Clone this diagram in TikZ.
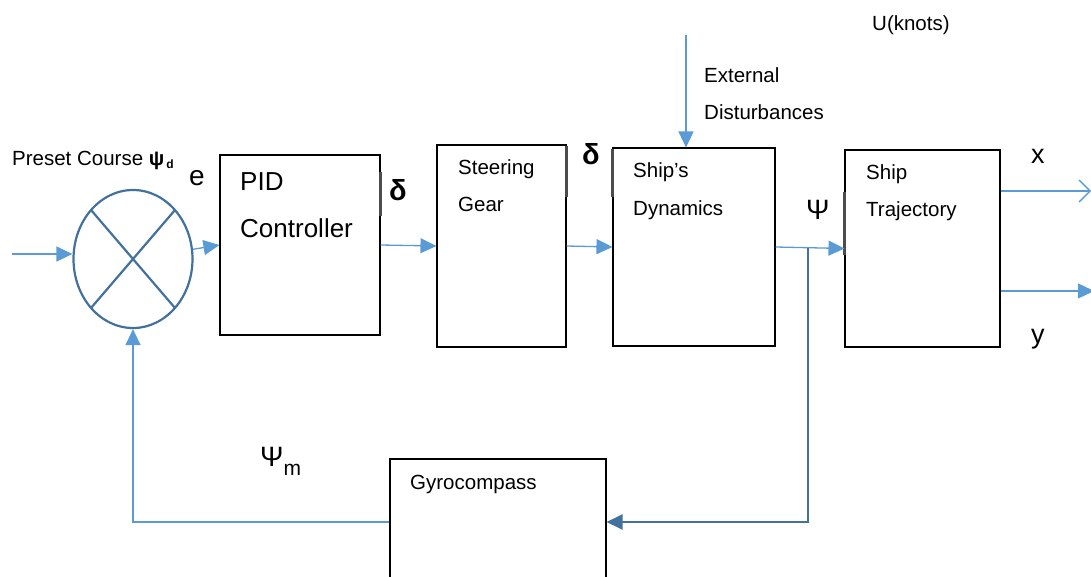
\documentclass[tikz,border=0pt]{standalone}
\usepackage{fontspec}
\setmainfont{Liberation Sans}
\usetikzlibrary{arrows.meta,shapes.geometric,calc}
\definecolor{lineblue}{HTML}{5B9BD5}
\definecolor{darkblue}{HTML}{41719C}
\begin{document}
\begin{tikzpicture}[x=1pt,y=-1pt,
  blk/.style={draw=black,line width=1.1pt,inner sep=0pt,rectangle},
  sig/.style={draw=lineblue,line width=1.3pt,-{Triangle[length=16pt,width=15pt]}},
  opensig/.style={draw=lineblue,line width=1.3pt,-{Straight Barb[length=11pt,width=22pt,line width=1.4pt]}},
  fb/.style={draw=darkblue,line width=2.4pt,-{Triangle[length=16pt,width=15pt]}},
  fbl/.style={draw=lineblue,line width=1.3pt,-{Triangle[length=16pt,width=15pt]}},
  bar/.style={draw=black!70,line width=2.6pt},
  lbl/.style={anchor=base west,inner sep=0pt,font=\fontsize{20.5}{24}\selectfont},
  big/.style={anchor=base west,inner sep=0pt,font=\fontsize{26}{30}\selectfont}]
\useasboundingbox (0,0) rectangle (1091,577);
\clip (0,0) rectangle (1091,577);

% summing junction
\node[ellipse,draw=darkblue,line width=2.2pt,minimum width=119pt,minimum height=138pt,inner sep=0pt] (sum) at (133,259) {};
\draw[darkblue,line width=2.2pt] ($(sum.center)+(-42,-49)$) -- ($(sum.center)+(42,49)$);
\draw[darkblue,line width=2.2pt] ($(sum.center)+(42,-49)$) -- ($(sum.center)+(-42,49)$);

% blocks
\node[blk,minimum width=160pt,minimum height=180pt] (pid) at (300,245) {};
\node[blk,minimum width=129pt,minimum height=202pt] (steer) at (501.5,246) {};
\node[blk,minimum width=162pt,minimum height=198pt] (dyn) at (694,247) {};
\node[blk,minimum width=155pt,minimum height=197pt] (traj) at (922.5,248.5) {};
\node[blk,minimum width=216pt,minimum height=126pt] (gyro) at (498,522) {};

% darker edge segments
\draw[bar] (pid.east |- 0,172) -- (pid.east |- 0,216);
\draw[bar] (steer.east |- 0,146) -- (steer.east |- 0,197);
\draw[bar] (dyn.west |- 0,149) -- (dyn.west |- 0,197);
\draw[bar] (traj.west |- 0,192) -- (traj.west |- 0,255);

% block texts
\node[big] (tpid) at (240,191) {PID};
\node[big] (tctrl) at (240,237) {Controller};
\node[lbl] (tsteer) at (458,175) {Steering};
\node[lbl] (tgear) at (458,212) {Gear};
\node[lbl] (tship) at (633,178) {Ship’s};
\node[lbl] (tdyn) at (633,215) {Dynamics};
\node[lbl] (tship2) at (866,180) {Ship};
\node[lbl] (ttraj) at (866,217) {Trajectory};
\node[lbl] (tgyro) at (410,489) {Gyrocompass};

% signal labels
\node[lbl] (preset) at (12,166) {Preset Course {\bfseries ψ\raisebox{-2.5pt}{\fontsize{12}{13}\selectfont\,d}}};
\node[big,font=\fontsize{28}{32}\selectfont] (le) at (189,186) {e};
\node[big,font=\fontsize{29}{32}\selectfont\bfseries] (d1) at (389,201) {δ};
\node[big,font=\fontsize{29}{32}\selectfont\bfseries] (d2) at (582,165) {δ};
\node[lbl] (ext) at (704,83) {External};
\node[lbl] (dis) at (704,120) {Disturbances};
\node[lbl] (knots) at (872,31) {U(knots)};
\node[big,font=\fontsize{28}{32}\selectfont] (psi) at (806,220) {Ψ};
\node[big,font=\fontsize{27}{32}\selectfont] (lx) at (1031,164) {x};
\node[big,font=\fontsize{27}{32}\selectfont] (ly) at (1031,343) {y};
\node[big,font=\fontsize{28}{32}\selectfont] (psim) at (260,466) {Ψ\raisebox{-9pt}{\fontsize{21}{24}\selectfont m}};

% connectors
\coordinate (in) at (12,254);
\coordinate (dist) at (686,35);
\coordinate (xout) at (1091,191);
\coordinate (yout) at (1091,291);
\draw[sig] (in) -- (in -| sum.west);
\draw[sig] (sum) -- (pid.west);
\draw[sig] (pid.east) -- (steer.west);
\draw[sig] (steer.east) -- (dyn.west);
\draw[sig] (dist) -- (dist |- dyn.north);
\draw[sig] (dyn.east) -- (traj.west);
\draw[opensig] (traj.east |- xout) -- (xout);
\draw[sig] (traj.east |- yout) -- ($(yout)+(3,0)$);
\coordinate (branch) at ($(dyn.east)!0.47!(traj.west)$);
\draw[fb] (branch) |- (gyro.east);
\draw[fbl] (gyro.west) -| (sum.south);
\end{tikzpicture}
\end{document}
